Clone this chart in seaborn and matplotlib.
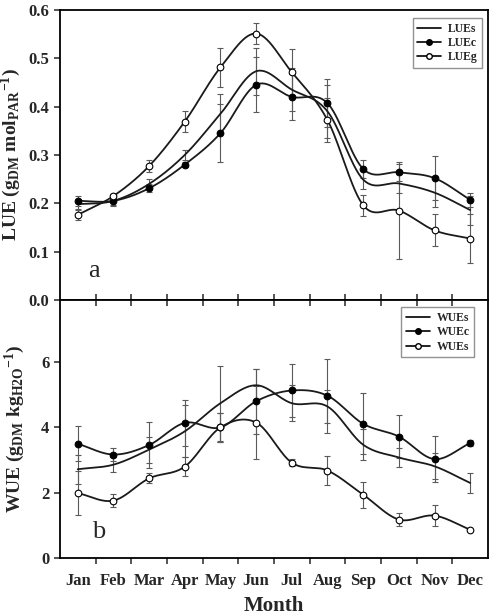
import numpy as np
import pandas as pd
import seaborn as sns
import matplotlib.pyplot as plt
from matplotlib.lines import Line2D

# values
months = ['Jan', 'Feb', 'Mar', 'Apr', 'May', 'Jun', 'Jul', 'Aug', 'Sep', 'Oct', 'Nov', 'Dec']

lue_s = [0.198, 0.205, 0.240, 0.300, 0.385, 0.473, 0.435, 0.390, 0.249, 0.241, 0.222, 0.186]
lue_s_err = [0.010, 0.010, 0.010, 0.010, 0.040, 0.049, 0.045, 0.055, 0.020, 0.020, 0.030, 0.030]
lue_c = [0.205, 0.205, 0.231, 0.280, 0.345, 0.445, 0.420, 0.407, 0.271, 0.264, 0.252, 0.207]
lue_c_err = [0.010, 0.008, 0.008, 0.005, 0.060, 0.057, 0.048, 0.050, 0.018, 0.018, 0.046, 0.015]
lue_g = [0.176, 0.215, 0.277, 0.369, 0.481, 0.551, 0.471, 0.372, 0.196, 0.185, 0.144, 0.127]
lue_g_err = [0.010, 0.005, 0.013, 0.022, 0.040, 0.022, 0.048, 0.045, 0.022, 0.100, 0.033, 0.050]

wue_s = [2.72, 2.86, 3.32, 3.88, 4.74, 5.29, 4.74, 4.64, 3.47, 3.08, 2.81, 2.30]
wue_s_err = [0.45, 0.22, 0.40, 0.80, 1.15, 0.50, 0.55, 0.50, 0.47, 0.30, 0.40, 0.30]
wue_c = [3.50, 3.17, 3.46, 4.14, 4.00, 4.80, 5.13, 4.97, 4.11, 3.72, 3.03, 3.52]
wue_c_err = [0.53, 0.20, 0.70, 0.70, 0.45, 1.00, 0.80, 1.13, 0.93, 0.67, 0.70, 0.10]
wue_g = [1.99, 1.76, 2.44, 2.80, 4.00, 4.15, 2.92, 2.68, 1.94, 1.18, 1.30, 0.87]
wue_g_err = [0.68, 0.20, 0.15, 0.30, 0.45, 1.13, 0.10, 0.45, 0.40, 0.20, 0.32, 0.03]

lue_names = ['LUEs', 'LUEc', 'LUEg']
wue_names = ['WUEs', 'WUEc', 'WUEs']

sns.set_style('ticks')
plt.rcParams['font.family'] = ['Liberation Serif', 'DejaVu Serif']
plt.rcParams['font.weight'] = 'bold'
plt.rcParams['mathtext.fontset'] = 'custom'
plt.rcParams['mathtext.rm'] = 'Liberation Serif:bold'
plt.rcParams['mathtext.bf'] = 'Liberation Serif:bold'
plt.rcParams['mathtext.it'] = 'Liberation Serif:bold'


def smooth_curve(y, n=30):
    # cubic hermite (catmull-rom) curve through the monthly points
    y = np.asarray(y, dtype=float)
    x = np.arange(len(y)) + 0.5
    m = np.gradient(y)
    xs, ys = [], []
    for i in range(len(y) - 1):
        t = np.linspace(0, 1, n, endpoint=False)
        h00 = 2 * t**3 - 3 * t**2 + 1
        h10 = t**3 - 2 * t**2 + t
        h01 = -2 * t**3 + 3 * t**2
        h11 = t**3 - t**2
        xs.append(x[i] + t)
        ys.append(h00 * y[i] + h10 * m[i] + h01 * y[i + 1] + h11 * m[i + 1])
    xs.append([x[-1]])
    ys.append([y[-1]])
    return np.concatenate(xs), np.concatenate(ys)


def draw_panel(ax, series, errors, names, anchor):
    xpos = np.arange(len(months)) + 0.5
    styles = [None, dict(marker='o', mfc='black', mec='black'),
              dict(marker='o', mfc='white', mec='black')]
    for k, (vals, err) in enumerate(zip(series, errors)):
        ax.errorbar(xpos, vals, yerr=err, fmt='none', ecolor='#5a5a5a',
                    elinewidth=0.8, capsize=2.2, capthick=0.8, zorder=2)
    for k, vals in enumerate(series):
        xs, ys = smooth_curve(vals)
        curve = pd.DataFrame({'x': xs, 'y': ys})
        sns.lineplot(data=curve, x='x', y='y', ax=ax, color='#1a1a1a',
                     lw=1.3, sort=False, estimator=None, zorder=3)
    for k, vals in enumerate(series):
        if styles[k] is None:
            continue
        ax.plot(xpos, vals, ls='none', ms=4.8, mew=0.8, zorder=4, **styles[k])
    handles = [Line2D([], [], color='black', lw=1.2),
               Line2D([], [], color='black', lw=1.2, marker='o', ms=4,
                      mfc='black', mec='black'),
               Line2D([], [], color='black', lw=1.2, marker='o', ms=4,
                      mfc='white', mec='black')]
    leg = ax.legend(handles, names, loc='upper right', bbox_to_anchor=anchor,
                    fontsize=8.5, frameon=True, fancybox=False,
                    handlelength=2.0, borderpad=0.4, labelspacing=0.2,
                    handletextpad=0.6, borderaxespad=0.0)
    leg.get_frame().set_edgecolor('#777777')
    leg.get_frame().set_linewidth(1.0)
    ax.set_xlim(0, 12)
    ax.set_xticks(np.arange(1, 12))
    ax.set_xticks(xpos, minor=True)
    ax.set_xlabel('')
    for s in ax.spines.values():
        s.set_linewidth(1.3)
        s.set_color('black')


fig = plt.figure(figsize=(4.91, 6.16), dpi=100)
ax1 = fig.add_axes([0.122, 0.513, 0.872, 0.471])
ax2 = fig.add_axes([0.122, 0.094, 0.872, 0.419])

draw_panel(ax1, [lue_s, lue_c, lue_g], [lue_s_err, lue_c_err, lue_g_err],
           lue_names, (0.987, 0.972))
draw_panel(ax2, [wue_s, wue_c, wue_g], [wue_s_err, wue_c_err, wue_g_err],
           wue_names, (0.968, 0.972))

ax1.set_ylim(0, 0.6)
ax1.set_yticks(np.arange(0, 0.61, 0.1))
ax1.set_yticklabels([f'{v:.1f}' for v in np.arange(0, 0.61, 0.1)])
ax1.tick_params(axis='x', which='major', direction='in', length=4, width=1.1,
                labelbottom=False)
ax1.tick_params(axis='x', which='minor', length=0, labelbottom=False)
ax1.tick_params(axis='y', direction='out', length=4, width=1.1, labelsize=12)
ax1.set_ylabel(r'LUE ($\mathbf{g_{DM}\ mol_{PAR}}^{\mathbf{-1}}$)',
               fontsize=14, fontweight='bold', labelpad=4)
ax1.text(0.08, 0.1, 'a', transform=ax1.transAxes, fontsize=19,
         fontweight='normal', ha='center', va='center')

ax2.set_ylim(0, 7.9)
ax2.set_yticks([0, 2, 4, 6])
ax2.tick_params(axis='x', which='major', direction='out', length=4, width=1.1,
                top=True, labelbottom=False)
ax2.tick_params(axis='x', which='minor', length=0, labelsize=12, pad=11)
ax2.set_xticklabels(months, minor=True)
ax2.tick_params(axis='y', direction='out', length=4, width=1.1, labelsize=12)
for t in ax2.xaxis.get_major_ticks():
    t.tick2line.set_marker(3)
    t.tick2line.set_markersize(4)
ax2.set_ylabel(r'WUE ($\mathbf{g_{DM}\ kg_{H2O}}^{\mathbf{-1}}$)',
               fontsize=14, fontweight='bold', labelpad=10)
ax2.set_xlabel('Month', fontsize=15, fontweight='bold', labelpad=5)
ax2.text(0.09, 0.1, 'b', transform=ax2.transAxes, fontsize=19,
         fontweight='normal', ha='center', va='center')

fig.savefig('out.png', dpi=100)
